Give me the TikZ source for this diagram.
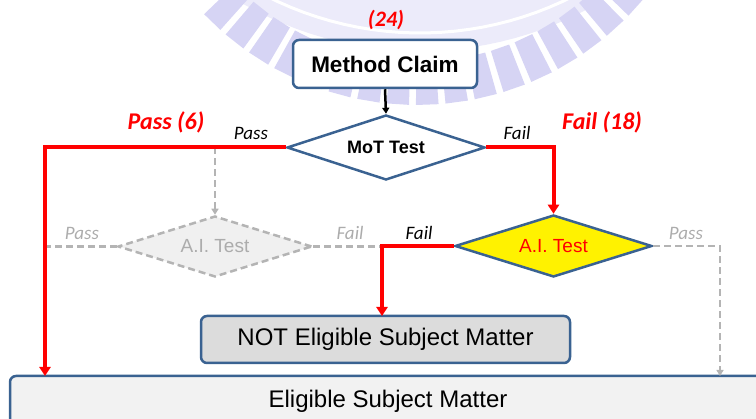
\documentclass[tikz,border=0pt]{standalone}
\usepackage{fontspec}
\setmainfont{Liberation Sans}
\newfontfamily\lblfont{Carlito}
\usetikzlibrary{shapes.geometric,arrows.meta,calc}

\definecolor{bordblue}{RGB}{58,98,145}
\definecolor{flowred}{RGB}{255,0,0}
\definecolor{ghost}{RGB}{180,180,180}
\definecolor{ghosttext}{RGB}{172,172,172}
\definecolor{ghostfill}{RGB}{240,240,240}
\definecolor{notfill}{RGB}{220,220,220}
\definecolor{eligfill}{RGB}{242,242,242}
\definecolor{crest}{RGB}{214,212,244}
\definecolor{crestlight}{RGB}{236,235,250}

\tikzset{
  box/.style={draw=bordblue, line width=2.5pt, rounded corners=6pt, inner sep=0pt},
  decision/.style={diamond, draw=bordblue, line width=2.5pt, inner sep=0pt, aspect=3},
  ghostdecision/.style={diamond, draw=ghost, dash pattern=on 7pt off 4pt, line width=2.5pt,
    fill=ghostfill, inner sep=0pt, aspect=3, text=ghosttext},
  redflow/.style={draw=flowred, line width=4pt},
  redarrow/.style={redflow, -{Triangle[length=9pt,width=11pt]}},
  ghostflow/.style={draw=ghost, line width=2.5pt, dash pattern=on 7pt off 4pt},
  ghostarrow/.style={ghostflow, -{Triangle[length=6pt,width=7pt]}},
  branch/.style={font=\lblfont\itshape\fontsize{19}{19}\selectfont, inner sep=0pt},
  tally/.style={text=flowred, font=\lblfont\bfseries\itshape\fontsize{24}{24}\selectfont, inner sep=0pt},
}

\begin{document}
\begin{tikzpicture}[x=1pt, y=-1pt]
  \useasboundingbox (0,0) rectangle (756,419);

  % faint crest in the background: pale outer band with a white groove
  \fill[crestlight]
    plot[domain=20:160, samples=60] ({420+300*cos(\x)},{-305+300*sin(\x)}) --
    plot[domain=160:20, samples=60] ({420+356*cos(\x)},{-305+356*sin(\x)}) -- cycle;
  \draw[white, line width=3pt]
    plot[domain=20:160, samples=60] ({420+338*cos(\x)},{-305+338*sin(\x)});
  % radial bars of the crest
  \foreach \a in {42,47.75,...,135} {
    \fill[crest]
      ({417+252*cos(\a-2.2)},{-190+252*sin(\a-2.2)}) --
      ({417+295*cos(\a-2.2)},{-190+295*sin(\a-2.2)}) --
      ({417+295*cos(\a+2.2)},{-190+295*sin(\a+2.2)}) --
      ({417+252*cos(\a+2.2)},{-190+252*sin(\a+2.2)}) -- cycle;
  }

  % nodes
  \node[tally, font=\lblfont\bfseries\itshape\fontsize{22}{22}\selectfont] (total) at (386,20) {(24)};
  \node[box, fill=white, minimum width=184pt, minimum height=48pt,
        font=\bfseries\fontsize{22.5}{22.5}\selectfont] (claim) at (385,64) {Method Claim};
  \node[decision, fill=white, minimum width=198pt, minimum height=65pt,
        font=\bfseries\fontsize{18}{18}\selectfont] (mot) at (386,147.5) {MoT Test};
  \node[ghostdecision, minimum width=194pt, minimum height=61pt,
        font=\fontsize{19}{19}\selectfont] (ghostai) at (215,246.5) {A.I. Test};
  \node[decision, fill=yellow, minimum width=197pt, minimum height=62pt, text=flowred,
        font=\fontsize{19}{19}\selectfont] (ai) at (553.5,246) {A.I. Test};
  \node[box, fill=notfill, minimum width=369pt, minimum height=47pt,
        font=\fontsize{24}{24}\selectfont] (notbox) at (385.5,339.5) {NOT Eligible Subject Matter};
  \node[box, fill=eligfill, minimum width=790pt, minimum height=56pt] (elig) at (405,404) {};
  \node[font=\fontsize{24}{24}\selectfont] (eligtext) at (388,401) {Eligible Subject Matter};

  % free ends of connectors
  \coordinate (passdrop) at (45,376);
  \coordinate (ghosttap) at (215,147.5);
  \coordinate (failin) at (382,316);
  \coordinate (passin) at (720,376);

  % grey (not taken) branches
  \draw[ghostflow] (ghostai.west) -- (ghostai.west -| passdrop);
  \draw[ghostflow] (ghostai.east) -- (ghostai.east -| failin);
  \draw[ghostarrow] (ghosttap) -- (ghostai.north);
  \draw[ghostarrow] (ai.east) -| (passin);

  % taken branches
  \draw[line width=2.5pt, -{Triangle[length=6pt,width=7pt]}] (claim.south) -- (mot.north);
  \draw[redarrow] (mot.west) -| (passdrop);
  \draw[redarrow] (mot.east) -| (ai.north);
  \draw[redarrow] (ai.west) -| (failin);

  % labels
  \node[tally] (passcount) at (166,122) {Pass (6)};
  \node[tally] (failcount) at (602,122) {Fail (18)};
  \node[branch] (motpass) at (251,133) {Pass};
  \node[branch] (motfail) at (517,133) {Fail};
  \node[branch, text=ghosttext] (ghostpass) at (82,233) {Pass};
  \node[branch, text=ghosttext] (ghostfail) at (350,233) {Fail};
  \node[branch] (aifail) at (419,233) {Fail};
  \node[branch, text=ghosttext] (aipass) at (686,233) {Pass};
\end{tikzpicture}
\end{document}
